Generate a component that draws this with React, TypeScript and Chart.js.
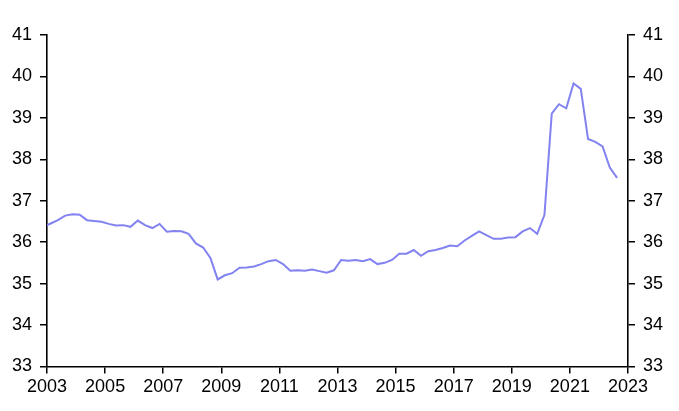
import { useEffect, useRef } from "react"
import { Chart, type ChartConfiguration, registerables } from "chart.js"

Chart.register(...registerables)

// quarterly series, 2002 Q4 to 2022 Q3 (plotted mid-quarter; the first point sits just left of the axis)
const values = [
  36.37, 36.45, 36.53, 36.64, 36.67, 36.66, 36.53, 36.51, 36.49, 36.44,
  36.40, 36.41, 36.37, 36.52, 36.41, 36.34, 36.44, 36.25, 36.27, 36.26,
  36.20, 35.97, 35.87, 35.62, 35.10, 35.20, 35.25, 35.38, 35.39, 35.41,
  35.47, 35.54, 35.57, 35.47, 35.31, 35.32, 35.31, 35.34, 35.30, 35.26,
  35.32, 35.57, 35.55, 35.57, 35.54, 35.59, 35.47, 35.50, 35.57, 35.72,
  35.72, 35.81, 35.67, 35.78, 35.81, 35.86, 35.92, 35.90, 36.04, 36.15,
  36.26, 36.17, 36.08, 36.08, 36.11, 36.12, 36.26, 36.34, 36.20, 36.66,
  39.10, 39.33, 39.23, 39.83, 39.70, 38.49, 38.42, 38.31, 37.80, 37.55,
]

const xMin = 2003
const xMax = 2023
const xStep = 2
const yMin = 33
const yMax = 41

// quarter labels matching the values above
const quarters: string[] = ["2002 Q4"]
for (let y = 2003; quarters.length < values.length; y++) {
  for (let q = 1; q <= 4 && quarters.length < values.length; q++) {
    quarters.push(`${y} Q${q}`)
  }
}

const points = quarters.map((label, i) => {
  const year = Number(label.slice(0, 4))
  const q = Number(label.slice(6))
  return { x: year + (q - 0.5) / 4, y: values[i] }
})

const FONT = { family: "'Liberation Sans', Arial, sans-serif", size: 18 }

export default function App() {
  const chartRef = useRef<HTMLCanvasElement>(null)
  const chartInstance = useRef<Chart | null>(null)

  useEffect(() => {
    if (!chartRef.current) return
    if (chartInstance.current) chartInstance.current.destroy()
    const ctx = chartRef.current.getContext("2d")
    if (!ctx) return

    const axisGrid = {
      drawOnChartArea: false,
      drawTicks: true,
      tickLength: 7,
      color: "#000000",
      lineWidth: 1.5,
    }
    const axisBorder = { display: true, color: "#000000", width: 1.6 }
    const yTicks = { stepSize: 1, color: "#000000", font: FONT, padding: 8 }

    const config: ChartConfiguration = {
      type: "line",
      data: {
        datasets: [
          {
            data: points,
            borderColor: "#8282f0",
            borderWidth: 2,
            pointRadius: 0,
            tension: 0,
            fill: false,
          },
        ],
      },
      options: {
        animation: false,
        responsive: true,
        maintainAspectRatio: false,
        layout: { padding: { top: 35, left: 4, right: 8, bottom: 10 } },
        plugins: {
          legend: { display: false },
          tooltip: { enabled: false },
        },
        scales: {
          x: {
            type: "linear",
            min: xMin,
            max: xMax,
            grid: axisGrid,
            border: axisBorder,
            ticks: {
              stepSize: xStep,
              maxRotation: 0,
              color: "#000000",
              font: FONT,
              padding: 3,
              callback: (v) => String(v),
            },
          },
          y: {
            position: "left",
            min: yMin,
            max: yMax,
            grid: axisGrid,
            border: axisBorder,
            ticks: yTicks,
          },
          y2: {
            position: "right",
            min: yMin,
            max: yMax,
            grid: axisGrid,
            border: axisBorder,
            ticks: yTicks,
          },
        },
      },
    }

    chartInstance.current = new Chart(ctx, config)

    return () => {
      if (chartInstance.current) {
        chartInstance.current.destroy()
        chartInstance.current = null
      }
    }
  }, [])

  return (
    <div style={{ position: "absolute", left: 0, top: 0, width: 679, height: 411, background: "#ffffff" }}>
      <canvas ref={chartRef} />
    </div>
  )
}
